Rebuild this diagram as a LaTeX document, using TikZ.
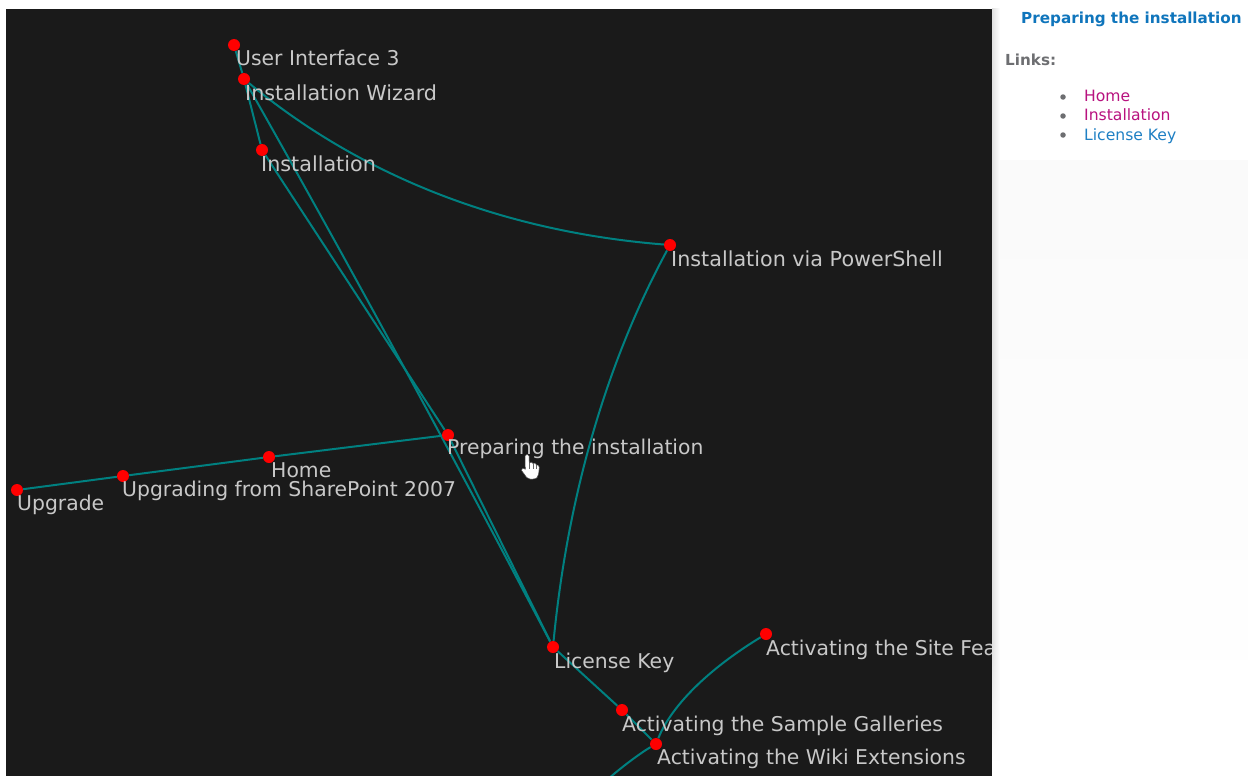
\documentclass[tikz,border=0pt]{standalone}
\usepackage{fontspec}
\setmainfont{DejaVu Sans}
\usetikzlibrary{backgrounds,fadings}
\pgfdeclarelayer{panelbg}
\pgfdeclarelayer{edgelayer}
\pgfsetlayers{panelbg,edgelayer,main}
\definecolor{panelbgc}{HTML}{1A1A1A}
\definecolor{edgec}{HTML}{008080}
\definecolor{labelc}{HTML}{C8C8C8}
\definecolor{headc}{HTML}{0F75BC}
\definecolor{magc}{HTML}{B8127F}
\definecolor{linkc}{HTML}{1F80C4}
\definecolor{grayc}{HTML}{6D6E71}
\tikzset{
  x=1pt,y=-1pt,
  dot/.style={circle,fill=red,draw=none,minimum size=12pt,inner sep=0pt},
  lab/.style={anchor=base west,inner sep=0pt,text=labelc,font=\fontsize{20.7}{24}\selectfont},
  labn/.style={lab,font=\fontsize{20.35}{24}\selectfont},
  edge/.style={draw=edgec,line width=2pt},
  head/.style={anchor=base west,inner sep=0pt,text=headc,font=\bfseries\fontsize{15.2}{18}\selectfont},
  sub/.style={anchor=base west,inner sep=0pt,text=grayc,font=\bfseries\fontsize{15.2}{18}\selectfont},
  item/.style={anchor=base west,inner sep=0pt,font=\fontsize{15.6}{18}\selectfont},
  bul/.style={circle,fill=grayc,draw=none,minimum size=5.5pt,inner sep=0pt}
}
\begin{document}
\begin{tikzpicture}
\useasboundingbox (0,0) rectangle (1248,776);
\begin{pgfonlayer}{panelbg}
  \fill[white] (0,0) rectangle (1248,776);
  \fill[panelbgc] (6,9) rectangle (992,776);
\end{pgfonlayer}
% graph nodes
\node[dot] (ui) at (234,45) {};
\node[dot] (wiz) at (244,79) {};
\node[dot] (inst) at (262,150) {};
\node[dot] (ps) at (670,245) {};
\node[dot] (prep) at (448,435) {};
\node[dot] (home) at (269,457) {};
\node[dot] (upg) at (123,476) {};
\node[dot] (up) at (17,490) {};
\node[dot] (lic) at (553,647) {};
\node[dot] (samp) at (622,710) {};
\node[dot] (wiki) at (656,744) {};
\node[dot] (site) at (766,634) {};
\coordinate (off) at (606,781);
% labels
\node[labn] (lui) at (236,66) {User Interface 3};
\node[lab] (lwiz) at (245,100) {Installation Wizard};
\node[lab] (linst) at (261,171) {Installation};
\node[lab] (lps) at (671,266) {Installation via PowerShell};
\node[labn] (lprep) at (447,454) {Preparing the installation};
\node[labn] (lhome) at (271,477) {Home};
\node[labn] (lupg) at (122,496) {Upgrading from SharePoint 2007};
\node[labn] (lup) at (17,510) {Upgrade};
\node[labn] (llic) at (554,668) {License Key};
\node[labn] (lsamp) at (622,731) {Activating the Sample Galleries};
\node[labn] (lwiki) at (657,764) {Activating the Wiki Extensions};
\node[labn] (lsite) at (766,655) {Activating the Site Fea};
% edges
\begin{pgfonlayer}{edgelayer}
  \draw[edge] (ui) -- (wiz);
  \draw[edge] (wiz) -- (inst);
  \draw[edge] (inst) -- (prep);
  \draw[edge] (prep) -- (lic);
  \draw[edge] (wiz) .. controls (350.7,267) and (453,456) .. (lic);
  \draw[edge] (wiz) .. controls (361.3,176.3) and (503.3,231.7) .. (ps);
  \draw[edge] (ps) .. controls (606.7,361.7) and (567.7,495.7) .. (lic);
  \draw[edge] (prep) -- (home);
  \draw[edge] (home) -- (upg);
  \draw[edge] (upg) -- (up);
  \draw[edge] (lic) -- (samp);
  \draw[edge] (samp) -- (wiki);
  \draw[edge] (wiki) .. controls (671.3,706) and (708,669.3) .. (site);
  \draw[edge] (wiki) .. controls (642,752) and (620,768) .. (off);
\end{pgfonlayer}
% cursor
\draw[fill=white,draw=black!70,line width=0.5pt,line join=round]
  (525,456) .. controls (526,453.5) and (528.5,453.5) .. (529,456)
  -- (529.3,463) .. controls (531,461.5) and (532.5,462) .. (533,463.5)
  .. controls (534.5,462.5) and (536,463) .. (536.5,465)
  .. controls (538,464.5) and (539.3,465.5) .. (539.3,467.5)
  -- (538.6,474) .. controls (538,477) and (536.8,479) .. (533,479)
  -- (530,479) .. controls (527,479) and (526,476.5) .. (524.5,474.5)
  -- (521.5,470.5) .. controls (521,468.5) and (523,467.5) .. (525.3,469.3)
  -- cycle;
\draw[black!60,line width=0.5pt] (529.3,463)--(529.3,469) (533,463.5)--(533,469) (536.5,465)--(536.5,469);
% side panel (covers the clipped label)
\fill[white] (992,0) rectangle (1248,776);
\fill[black!2,path fading=south] (1000,160) rectangle (1248,660);
\shade[left color=black!12,right color=white] (992,9) rectangle (1000,640);
\shade[left color=black!12,right color=white,path fading=south] (992,640) rectangle (1000,760);
\fill[white] (1000,0) rectangle (1248,160);
\node[head] (title) at (1021,24) {Preparing the installation};
\node[sub] (links) at (1005,66) {Links:};
\node[bul] (b1) at (1063,97) {};
\node[bul] (b2) at (1063,116) {};
\node[bul] (b3) at (1063,135) {};
\node[item,text=magc] (i1) at (1084,102) {Home};
\node[item,text=magc] (i2) at (1084,121) {Installation};
\node[item,text=linkc] (i3) at (1084,140) {License Key};
\end{tikzpicture}
\end{document}
